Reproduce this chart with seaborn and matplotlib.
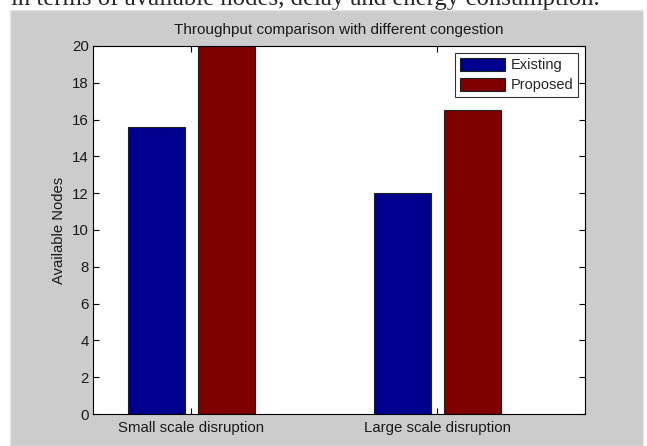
import pandas as pd
import matplotlib.pyplot as plt
import seaborn as sns
from matplotlib.patches import Rectangle

scenarios = ["Small scale disruption", "Large scale disruption"]
methods = ["Existing", "Proposed"]
existing = [15.6, 12.0]
proposed = [20.0, 16.5]
colors = ["#00008f", "#800000"]

data = pd.DataFrame({
    "scenario": scenarios * 2,
    "method": [methods[0]] * 2 + [methods[1]] * 2,
    "nodes": existing + proposed,
})

sns.set_style("white")
plt.rcParams["font.family"] = ["Liberation Sans", "DejaVu Sans"]

fig = plt.figure(figsize=(6.47, 4.46), dpi=100, facecolor="white")

# grey matlab figure panel
fig.patches.append(Rectangle((10 / 647, 0), 633 / 647, 436 / 446, transform=fig.transFigure,
                             facecolor="#cccccc", edgecolor="#e6e6e6", lw=1, zorder=-5))
# caption of the page the screenshot was cut from (only its lower half shows)
fig.text(11 / 647, 1 - 5 / 446, "in terms of available nodes, delay and energy consumption.",
         family="Liberation Serif", fontsize=17.8, va="baseline", ha="left", zorder=-10)

ax = fig.add_axes([93 / 647, 1 - 414 / 446, 492 / 647, 368 / 446])
sns.barplot(data=data, x="scenario", y="nodes", hue="method", palette=colors,
            width=0.57, gap=0.19, edgecolor="#202020", linewidth=0.8, saturation=1, ax=ax)

ax.set_xlim(-0.4, 1.6)
ax.set_ylim(0, 20)
ax.set_yticks(range(0, 21, 2))
ax.set_title("Throughput comparison with different congestion", fontsize=11, pad=8.5,
             color="#1a1a1a")
ax.set_xlabel("")
ax.set_ylabel("Available Nodes", fontsize=10.6, labelpad=4, color="#1a1a1a")
ax.tick_params(direction="in", length=4, width=0.8, labelsize=10.8, top=True, right=True,
               bottom=True, left=True, colors="black", labelcolor="#1a1a1a")
ax.tick_params(axis="x", pad=5)
ax.tick_params(axis="y", pad=3)
for s in ax.spines.values():
    s.set_color("black")
    s.set_linewidth(0.8)
ax.set_facecolor("white")

leg = ax.legend(loc="upper right", fontsize=10.5, frameon=True, fancybox=False,
                edgecolor="black", handlelength=3.1, handleheight=1.0,
                borderpad=0.34, labelspacing=0.37, handletextpad=0.35,
                borderaxespad=0, bbox_to_anchor=(1 - 7 / 492, 1 - 7 / 368))
leg.get_frame().set_linewidth(0.8)

fig.savefig("out.png", dpi=100, facecolor=fig.get_facecolor())
